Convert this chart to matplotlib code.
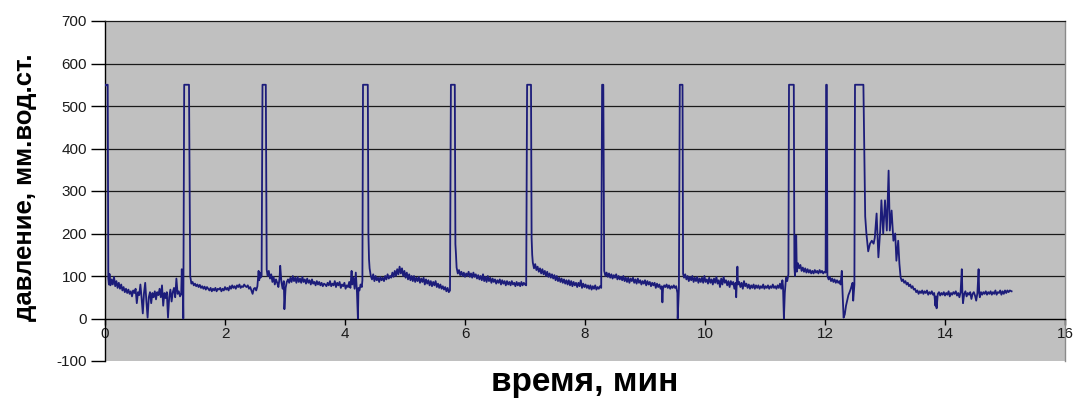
import matplotlib
matplotlib.use("Agg")
import matplotlib.pyplot as plt

plt.rcParams['font.family'] = ['Liberation Sans', 'DejaVu Sans']

# ---- data (time in minutes, pressure in mm H2O) ----
time_min = [
    0.00, 0.01, 0.03, 0.045, 0.055, 0.065, 0.075,
    # segment A
    0.09, 0.11, 0.13, 0.15, 0.17, 0.19, 0.21, 0.23, 0.25, 0.27, 0.29, 0.31, 0.33, 0.35, 0.37, 0.39,
    0.41, 0.43, 0.45, 0.47, 0.49, 0.51, 0.53, 0.55, 0.57, 0.59, 0.61, 0.63, 0.65, 0.67, 0.69, 0.71,
    0.73, 0.75, 0.77, 0.79, 0.81, 0.83, 0.85, 0.87, 0.89, 0.91, 0.93, 0.95, 0.97, 0.99, 1.01, 1.03,
    1.05, 1.07, 1.09, 1.11, 1.13, 1.15, 1.17, 1.19, 1.21, 1.23, 1.25, 1.27, 1.28, 1.29, 1.30, 1.305,
    1.32, 1.40, 1.42,
    # segment B
    1.44, 1.46, 1.48, 1.50, 1.52, 1.54, 1.56, 1.58, 1.60, 1.62, 1.64, 1.66, 1.68, 1.70, 1.72, 1.74,
    1.76, 1.78, 1.80, 1.82, 1.84, 1.86, 1.88, 1.90, 1.92, 1.94, 1.96, 1.98, 2.00, 2.02, 2.04, 2.06,
    2.08, 2.10, 2.12, 2.14, 2.16, 2.18, 2.20, 2.22, 2.24, 2.26, 2.28, 2.30, 2.32, 2.34, 2.36, 2.38,
    2.40, 2.42, 2.44, 2.46, 2.48, 2.50, 2.52, 2.54, 2.56, 2.57, 2.58, 2.59, 2.61, 2.625, 2.68, 2.695,
    # segment C
    2.71, 2.73, 2.75, 2.77, 2.79, 2.81, 2.83, 2.85, 2.87, 2.89, 2.91, 2.92, 2.94, 2.96, 2.98, 2.99,
    3.01, 3.03, 3.05, 3.07, 3.09, 3.11, 3.13, 3.15, 3.17, 3.19, 3.21, 3.23, 3.25, 3.27, 3.29, 3.31,
    3.33, 3.35, 3.37, 3.39, 3.41, 3.43, 3.45, 3.47, 3.49, 3.51, 3.53, 3.55, 3.57, 3.59, 3.61, 3.63,
    3.65, 3.67, 3.69, 3.71, 3.73, 3.75, 3.77, 3.79, 3.81, 3.83, 3.85, 3.87, 3.89, 3.91, 3.93, 3.95,
    3.97, 3.99, 4.01, 4.03, 4.05, 4.07, 4.09, 4.11, 4.12, 4.14, 4.16, 4.18, 4.19, 4.20, 4.215, 4.225,
    4.24, 4.26, 4.28, 4.29, 4.30, 4.37, 4.38, 4.39, 4.40, 4.41, 4.43,
    # segment D
    4.45, 4.47, 4.49, 4.51, 4.53, 4.55, 4.57, 4.59, 4.61, 4.63, 4.65, 4.67, 4.69, 4.71, 4.73, 4.75,
    4.77, 4.79, 4.81, 4.83, 4.85, 4.87, 4.89, 4.91, 4.93, 4.95, 4.97, 4.99, 5.01, 5.03, 5.05, 5.07,
    5.09, 5.11, 5.13, 5.15, 5.17, 5.19, 5.21, 5.23, 5.25, 5.27, 5.29, 5.31, 5.33, 5.35, 5.37, 5.39,
    5.41, 5.43, 5.45, 5.47, 5.49, 5.51, 5.53, 5.55, 5.57, 5.59, 5.61, 5.63, 5.65, 5.67, 5.69, 5.71,
    5.73, 5.75, 5.765, 5.83, 5.84, 5.85, 5.86,
    # segment E
    5.88, 5.90, 5.92, 5.94, 5.96, 5.98, 6.00, 6.02, 6.04, 6.06, 6.08, 6.10, 6.12, 6.14, 6.16, 6.18,
    6.20, 6.22, 6.24, 6.26, 6.28, 6.30, 6.32, 6.34, 6.36, 6.38, 6.40, 6.42, 6.44, 6.46, 6.48, 6.50,
    6.52, 6.54, 6.56, 6.58, 6.60, 6.62, 6.64, 6.66, 6.68, 6.70, 6.72, 6.74, 6.76, 6.78, 6.80, 6.82,
    6.84, 6.86, 6.88, 6.90, 6.92, 6.94, 6.96, 6.98, 7.00, 7.02, 7.035, 7.10, 7.11, 7.12, 7.13,
    # segment F
    7.15, 7.17, 7.19, 7.21, 7.23, 7.25, 7.27, 7.29, 7.31, 7.33, 7.35, 7.37, 7.39, 7.41, 7.43, 7.45,
    7.47, 7.49, 7.51, 7.53, 7.55, 7.57, 7.59, 7.61, 7.63, 7.65, 7.67, 7.69, 7.71, 7.73, 7.75, 7.77,
    7.79, 7.81, 7.83, 7.85, 7.87, 7.89, 7.91, 7.93, 7.95, 7.97, 7.99, 8.01, 8.03, 8.05, 8.07, 8.09,
    8.11, 8.13, 8.15, 8.17, 8.19, 8.21, 8.23, 8.25, 8.27, 8.285, 8.305, 8.32,
    # segment G
    8.34, 8.36, 8.38, 8.40, 8.42, 8.44, 8.46, 8.48, 8.50, 8.52, 8.54, 8.56, 8.58, 8.60, 8.62, 8.64,
    8.66, 8.68, 8.70, 8.72, 8.74, 8.76, 8.78, 8.80, 8.82, 8.84, 8.86, 8.88, 8.90, 8.92, 8.94, 8.96,
    8.98, 9.00, 9.02, 9.04, 9.06, 9.08, 9.10, 9.12, 9.14, 9.16, 9.18, 9.20, 9.22, 9.24, 9.26, 9.28,
    9.29, 9.30, 9.32, 9.34, 9.36, 9.38, 9.40, 9.42, 9.44, 9.46, 9.48, 9.50, 9.52, 9.54, 9.545, 9.565,
    9.58, 9.625, 9.635,
    # segment H
    9.65, 9.67, 9.69, 9.71, 9.73, 9.75, 9.77, 9.79, 9.81, 9.83, 9.85, 9.87, 9.89, 9.91, 9.93, 9.95,
    9.97, 9.99, 10.01, 10.03, 10.05, 10.07, 10.09, 10.11, 10.13, 10.15, 10.17, 10.19, 10.21, 10.23,
    10.25, 10.27, 10.29, 10.31, 10.33, 10.35, 10.37, 10.39, 10.41, 10.43, 10.45, 10.47, 10.49, 10.51,
    10.52, 10.53, 10.54, 10.55, 10.57, 10.59, 10.61, 10.63, 10.65, 10.67, 10.69, 10.71, 10.73, 10.75,
    10.77, 10.79, 10.81, 10.83, 10.85, 10.87, 10.89, 10.91, 10.93, 10.95, 10.97, 10.99, 11.01, 11.03,
    11.05, 11.07, 11.09, 11.11, 11.13, 11.15, 11.17, 11.19, 11.21, 11.23, 11.25, 11.27, 11.29, 11.30,
    11.315, 11.33, 11.35, 11.37, 11.39, 11.40, 11.48, 11.49, 11.50, 11.52, 11.53,
    # segment I
    11.55, 11.57, 11.59, 11.61, 11.63, 11.65, 11.67, 11.69, 11.71, 11.73, 11.75, 11.77, 11.79, 11.81,
    11.83, 11.85, 11.87, 11.89, 11.91, 11.93, 11.95, 11.97, 11.99, 12.01, 12.02, 12.03, 12.04,
    12.06, 12.08, 12.10, 12.12, 12.14, 12.16, 12.18, 12.20, 12.22, 12.24, 12.26, 12.28, 12.29, 12.31,
    12.33, 12.35, 12.37, 12.39, 12.41, 12.43, 12.45, 12.46, 12.47, 12.49, 12.50, 12.64,
    # segment J
    12.66, 12.67, 12.69, 12.72, 12.75, 12.78, 12.81, 12.83, 12.86, 12.89, 12.92, 12.94, 12.97, 13.00,
    13.03, 13.06, 13.08, 13.11, 13.14, 13.17, 13.19, 13.22, 13.24, 13.26,
    13.28, 13.30, 13.32, 13.34, 13.36, 13.38, 13.40, 13.42, 13.44, 13.46, 13.48, 13.50, 13.52, 13.54,
    13.56, 13.58, 13.60, 13.62, 13.64, 13.66, 13.68, 13.70, 13.72, 13.74, 13.76, 13.78, 13.80, 13.82,
    13.84, 13.85, 13.86, 13.88, 13.90, 13.92, 13.94, 13.96, 13.98, 14.00, 14.02, 14.04, 14.06, 14.08,
    14.10, 14.12, 14.14, 14.16, 14.18, 14.20, 14.22, 14.24, 14.26, 14.28, 14.29, 14.30, 14.32, 14.34,
    14.36, 14.38, 14.40, 14.42, 14.44, 14.46, 14.48, 14.50, 14.52, 14.54, 14.56, 14.57, 14.58, 14.60,
    14.62, 14.64, 14.66, 14.68, 14.70, 14.72, 14.74, 14.76, 14.78, 14.80, 14.82, 14.84, 14.86, 14.88,
    14.90, 14.92, 14.94, 14.96, 14.98, 15.00, 15.02, 15.04, 15.06, 15.08, 15.11,
]

pressure = [
    550, 548, 550, 550, 95, 80, 105,
    # segment A
    78, 92, 80, 98, 76, 88, 72, 84, 70, 80, 66, 74, 62, 70, 60, 68,
    58, 64, 52, 66, 60, 70, 36, 62, 55, 80, 48, 12, 60, 84, 40, 2,
    50, 62, 36, 60, 50, 64, 45, 62, 55, 70, 50, 78, 30, 60, 48, 62,
    2, 50, 68, 40, 62, 72, 50, 94, 58, 64, 52, 60, 116, 58, 50, 0,
    550, 550, 100,
    # segment B
    82, 86, 78, 82, 76, 80, 74, 79, 72, 76, 70, 75, 68, 74, 70, 66,
    72, 64, 70, 66, 72, 64, 70, 68, 72, 64, 70, 66, 74, 68, 72, 66,
    76, 70, 78, 72, 76, 70, 78, 74, 80, 72, 76, 74, 80, 76, 74, 78,
    70, 74, 66, 58, 70, 72, 66, 76, 112, 90, 108, 96, 100, 550, 550, 115,
    # segment C
    100, 112, 94, 104, 86, 98, 80, 92, 84, 74, 96, 124, 86, 70, 88, 22,
    72, 86, 92, 84, 96, 86, 100, 88, 96, 84, 98, 86, 94, 84, 98, 86,
    92, 82, 94, 84, 90, 80, 92, 82, 86, 78, 88, 80, 86, 78, 84, 76,
    82, 80, 76, 84, 78, 88, 76, 82, 78, 88, 74, 84, 78, 86, 72, 80,
    76, 84, 70, 78, 74, 86, 72, 112, 80, 96, 70, 108, 84, 60, 0, 72,
    66, 80, 74, 90, 550, 550, 550, 200, 140, 118, 100,
    # segment D
    92, 104, 88, 100, 90, 96, 86, 98, 90, 96, 88, 100, 92, 104, 94, 100,
    96, 108, 98, 112, 100, 116, 104, 122, 106, 118, 100, 112, 96, 108, 92, 104,
    90, 100, 88, 100, 86, 96, 88, 98, 84, 94, 86, 96, 80, 92, 82, 90,
    78, 88, 76, 86, 78, 88, 74, 82, 72, 80, 70, 76, 68, 74, 64, 72,
    62, 66, 550, 550, 175, 150, 120,
    # segment E
    106, 114, 102, 110, 100, 108, 98, 106, 100, 110, 98, 106, 96, 108, 98, 104,
    94, 102, 92, 100, 90, 104, 88, 98, 86, 100, 88, 96, 84, 94, 86, 92,
    82, 90, 84, 92, 80, 90, 82, 88, 78, 88, 80, 86, 78, 88, 80, 84,
    76, 86, 78, 84, 76, 86, 78, 84, 80, 78, 550, 550, 190, 150, 132,
    # segment F
    118, 128, 114, 122, 110, 118, 106, 116, 104, 112, 100, 110, 98, 106, 96, 104,
    94, 102, 90, 100, 88, 96, 86, 94, 84, 92, 82, 90, 80, 90, 78, 88,
    76, 86, 78, 84, 74, 84, 76, 90, 72, 82, 74, 80, 72, 78, 70, 78,
    68, 76, 70, 78, 68, 74, 70, 76, 72, 550, 550, 112,
    # segment G
    100, 108, 98, 106, 96, 104, 94, 102, 96, 104, 92, 100, 92, 98, 90, 100,
    88, 96, 86, 96, 84, 94, 88, 96, 84, 92, 82, 94, 84, 90, 80, 88,
    82, 90, 78, 88, 80, 86, 76, 84, 78, 84, 72, 82, 74, 80, 70, 76,
    38, 70, 78, 74, 80, 72, 78, 70, 76, 72, 78, 72, 76, 60, 0, 70,
    550, 550, 105,
    # segment H
    96, 104, 92, 100, 88, 98, 90, 100, 86, 96, 88, 98, 84, 94, 86, 96,
    84, 100, 86, 92, 82, 96, 84, 92, 80, 94, 84, 98, 82, 90,
    74, 94, 80, 98, 84, 90, 78, 88, 74, 88, 80, 86, 70, 84,
    50, 84, 122, 80, 86, 74, 84, 70, 88, 76, 82, 72, 80, 70,
    78, 72, 80, 70, 78, 72, 78, 70, 76, 72, 80, 70, 76, 72,
    78, 70, 76, 72, 80, 72, 76, 70, 78, 72, 82, 70, 90, 76,
    0, 60, 96, 88, 104, 550, 550, 120, 100, 195, 110,
    # segment I
    130, 118, 126, 112, 120, 110, 118, 108, 116, 108, 114, 106, 112, 106,
    114, 108, 112, 106, 114, 108, 112, 106, 110, 108, 550, 550, 100,
    92, 98, 88, 94, 86, 92, 84, 90, 84, 88, 80, 112, 70, 2,
    10, 30, 42, 55, 62, 70, 80, 84, 42, 80, 550, 550,
    # segment J
    330, 240, 200, 158, 176, 183, 176, 190, 247, 144, 207, 278, 200, 278,
    207, 348, 207, 254, 183, 200, 136, 183, 129, 97,
    88, 92, 84, 88, 80, 84, 76, 80, 72, 76, 68, 70, 62, 66,
    58, 64, 60, 66, 58, 64, 60, 66, 56, 62, 58, 64, 56, 60,
    30, 52, 24, 58, 62, 54, 60, 56, 62, 54, 60, 56, 64, 52,
    60, 56, 62, 58, 64, 54, 60, 50, 62, 116, 60, 36, 58, 64,
    52, 60, 56, 62, 46, 58, 62, 54, 42, 60, 116, 60, 50, 62,
    56, 62, 58, 64, 56, 62, 58, 64, 56, 62, 58, 66, 56, 62,
    60, 66, 56, 64, 58, 66, 60, 66, 62, 66, 64,
]

x_ticks = [0, 2, 4, 6, 8, 10, 12, 14, 16]
y_ticks = [-100, 0, 100, 200, 300, 400, 500, 600, 700]
x_label = "время, мин"
y_label = "давление, мм.вод.ст."

# ---- figure ----
W, H, DPI = 1075, 401, 100
fig = plt.figure(figsize=(W / DPI, H / DPI), dpi=DPI)
fig.patch.set_facecolor("white")
L, R, T, B = 105, 1065, 21, 361
ax = fig.add_axes([L / W, 1 - B / H, (R - L) / W, (B - T) / H])
ax.set_facecolor("#c0c0c0")

ax.plot(time_min, pressure, color="#1c1c7a", lw=1.3, zorder=3)

ax.set_xlim(0, 16)
ax.set_ylim(-100, 700)
ax.set_xticks(x_ticks)
ax.set_yticks(y_ticks)
ax.set_xticklabels([str(v) for v in x_ticks])
ax.set_yticklabels([str(v) for v in y_ticks])

for yv in y_ticks:
    if 0 < yv < 700:
        ax.axhline(yv, color="#1a1a1a", lw=0.9, zorder=1)

ax.spines["bottom"].set_position(("data", 0))
ax.spines["bottom"].set_color("black")
ax.spines["bottom"].set_linewidth(1.0)
ax.spines["left"].set_color("black")
ax.spines["left"].set_linewidth(1.0)
ax.spines["top"].set_color("#1a1a1a")
ax.spines["top"].set_linewidth(0.9)
ax.spines["right"].set_color("#8a8a8a")
ax.spines["right"].set_linewidth(1.0)

ax.tick_params(axis="y", direction="out", length=10, width=1.0, pad=3,
               labelsize=11, colors="black")
ax.tick_params(axis="x", direction="out", length=4, width=1.0, pad=2,
               labelsize=11, colors="black")
for lbl in ax.get_xticklabels() + ax.get_yticklabels():
    lbl.set_color("#1a1a1a")

fig.text(25 / W, 1 - 187 / H, y_label, rotation=90, ha="center", va="center",
         fontsize=18.5, fontweight="bold", color="black")
fig.text(585 / W, 1 - 383 / H, x_label, ha="center", va="center",
         fontsize=24, fontweight="bold", color="black")

fig.savefig("out.png", dpi=DPI)
